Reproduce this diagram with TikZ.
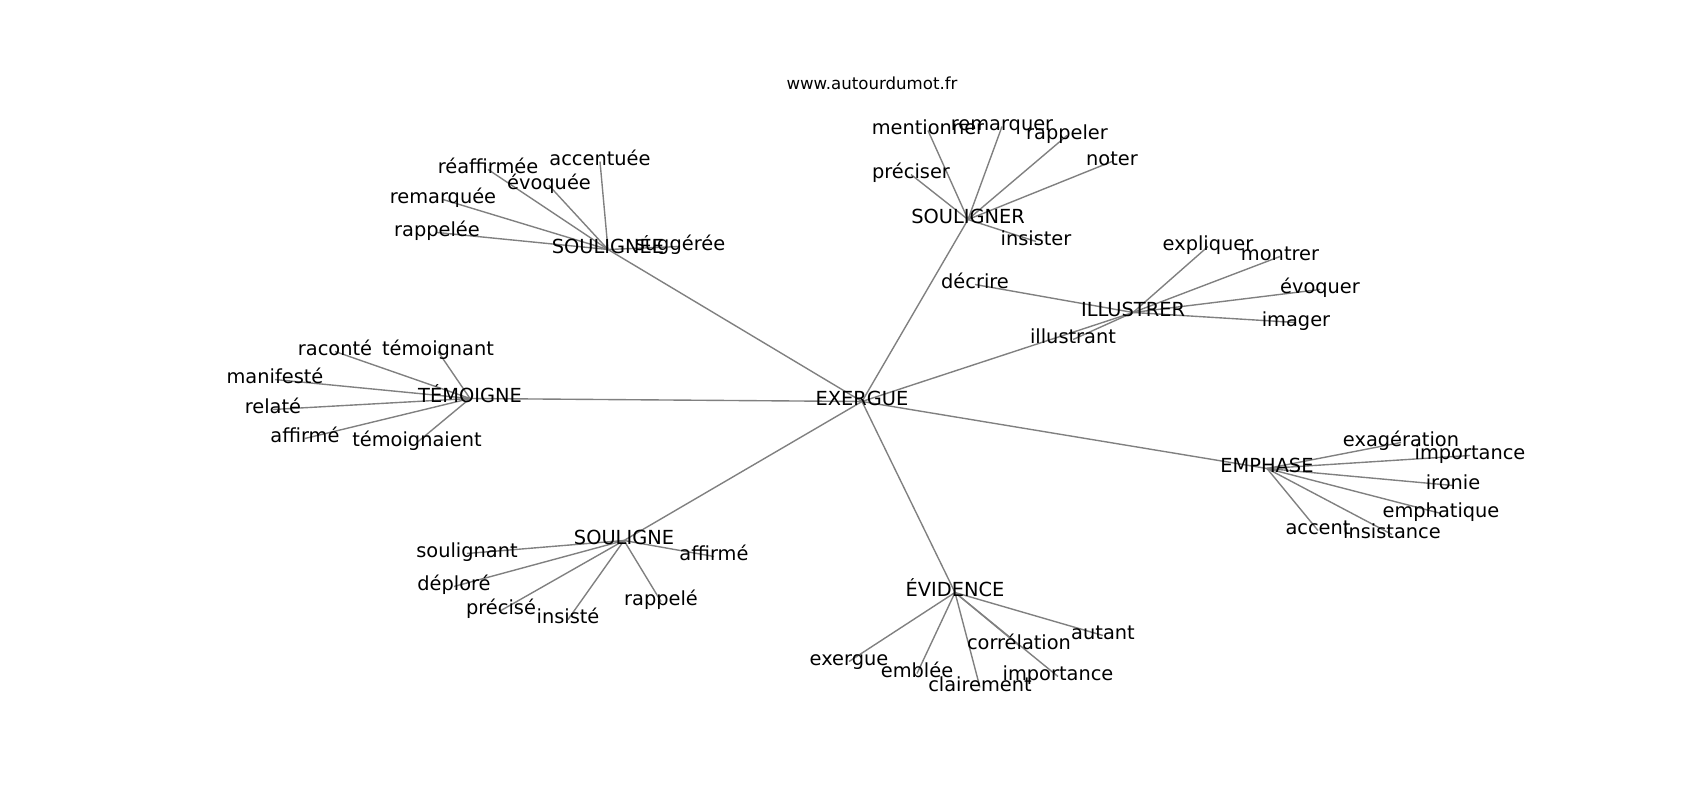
\documentclass[tikz,border=0pt]{standalone}
\usepackage{fontspec}
\setmainfont{DejaVu Sans}
\usetikzlibrary{backgrounds}
\definecolor{edgegray}{RGB}{128,128,128}
\tikzset{
  lbl/.style={inner sep=0pt, outer sep=0pt, text height=0.76em, text depth=0.24em, anchor=center, font=\fontsize{14}{17}\selectfont, text=black},
  ttl/.style={inner sep=0pt, anchor=center, font=\fontsize{12}{14}\selectfont, text=black},
  edge/.style={draw=edgegray, line width=1pt}
}
\begin{document}
\begin{tikzpicture}[x=0.01in, y=-0.01in]
\useasboundingbox (0,0) rectangle (1700,800);
\node[ttl] (title) at (872,83) {www.autourdumot.fr};
\begin{scope}[shift={(0,2.5)}]
% hubs
\node[lbl] (ex) at (862,399) {EXERGUE};
\node[lbl] (see) at (608,247) {SOULIGNÉE};
\node[lbl] (ser) at (968,217) {SOULIGNER};
\node[lbl] (ill) at (1133,310) {ILLUSTRER};
\node[lbl] (tem) at (470,396) {TÉMOIGNE};
\node[lbl] (emp) at (1267,466) {EMPHASE};
\node[lbl] (sou) at (624,538) {SOULIGNE};
\node[lbl] (evi) at (955,590) {ÉVIDENCE};
% SOULIGNÉE leaves
\node[lbl] (a1) at (488,167) {réaffirmée};
\node[lbl] (a2) at (600,159) {accentuée};
\node[lbl] (a3) at (549,183) {évoquée};
\node[lbl] (a4) at (443,197) {remarquée};
\node[lbl] (a5) at (437,230) {rappelée};
\node[lbl] (a6) at (680,244) {suggérée};
% SOULIGNER leaves
\node[lbl] (b1) at (928,128) {mentionner};
\node[lbl] (b2) at (1002,124) {remarquer};
\node[lbl] (b3) at (1067,133) {rappeler};
\node[lbl] (b4) at (1112,159) {noter};
\node[lbl] (b5) at (911,172) {préciser};
\node[lbl] (b6) at (1036,239) {insister};
% ILLUSTRER leaves
\node[lbl] (c1) at (1208,244) {expliquer};
\node[lbl] (c2) at (1280,254) {montrer};
\node[lbl] (c3) at (1320,287) {évoquer};
\node[lbl] (c4) at (1296,320) {imager};
\node[lbl] (c5) at (975,282) {décrire};
\node[lbl] (c6) at (1073,337) {illustrant};
% TÉMOIGNE leaves
\node[lbl] (d1) at (335,349) {raconté};
\node[lbl] (d2) at (438,349) {témoignant};
\node[lbl] (d3) at (275,377) {manifesté};
\node[lbl] (d4) at (273,407) {relaté};
\node[lbl] (d5) at (305,436) {affirmé};
\node[lbl] (d6) at (417,440) {témoignaient};
% EMPHASE leaves
\node[lbl] (e1) at (1401,440) {exagération};
\node[lbl] (e2) at (1470,453) {importance};
\node[lbl] (e3) at (1453,483) {ironie};
\node[lbl] (e4) at (1441,511) {emphatique};
\node[lbl] (e5) at (1318,528) {accent};
\node[lbl] (e6) at (1392,532) {insistance};
% SOULIGNE leaves
\node[lbl] (f1) at (467,551) {soulignant};
\node[lbl] (f2) at (714,554) {affirmé};
\node[lbl] (f3) at (454,584) {déploré};
\node[lbl] (f4) at (501,608) {précisé};
\node[lbl] (f5) at (568,617) {insisté};
\node[lbl] (f6) at (661,599) {rappelé};
% ÉVIDENCE leaves
\node[lbl] (g1) at (1103,633) {autant};
\node[lbl] (g2) at (1019,643) {corrélation};
\node[lbl] (g3) at (849,659) {exergue};
\node[lbl] (g4) at (917,671) {emblée};
\node[lbl] (g5) at (980,685) {clairement};
\node[lbl] (g6) at (1058,674) {importance};
\end{scope}
\begin{pgfonlayer}{background}
\fill[white] (0,0) rectangle (1700,800);
\foreach \h in {see,ser,ill,tem,emp,sou,evi}
  \draw[edge] (ex.center) -- (\h.center);
\foreach \l in {a1,a2,a3,a4,a5,a6}
  \draw[edge] (see.center) -- (\l.center);
\foreach \l in {b1,b2,b3,b4,b5,b6}
  \draw[edge] (ser.center) -- (\l.center);
\foreach \l in {c1,c2,c3,c4,c5,c6}
  \draw[edge] (ill.center) -- (\l.center);
\foreach \l in {d1,d2,d3,d4,d5,d6}
  \draw[edge] (tem.center) -- (\l.center);
\foreach \l in {e1,e2,e3,e4,e5,e6}
  \draw[edge] (emp.center) -- (\l.center);
\foreach \l in {f1,f2,f3,f4,f5,f6}
  \draw[edge] (sou.center) -- (\l.center);
\foreach \l in {g1,g2,g3,g4,g5,g6}
  \draw[edge] (evi.center) -- (\l.center);
\end{pgfonlayer}
\end{tikzpicture}
\end{document}
